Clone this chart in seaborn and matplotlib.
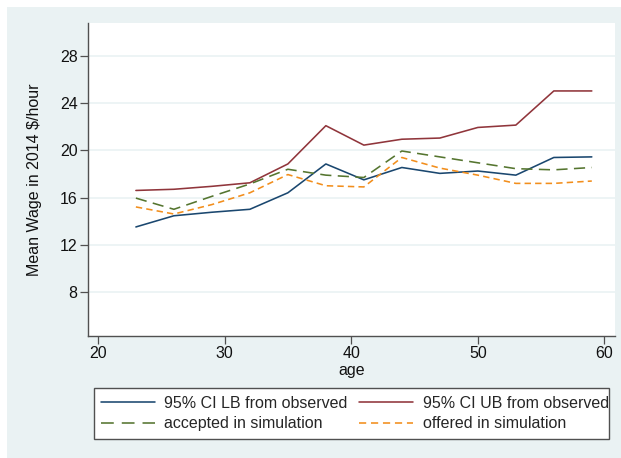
import matplotlib
matplotlib.use("Agg")
import matplotlib.pyplot as plt
from matplotlib.patches import Rectangle
from matplotlib.lines import Line2D
import pandas as pd
import seaborn as sns

# Age groups and mean hourly wages (2014 dollars)
age = [23, 26, 29, 32, 35, 38, 41, 44, 47, 50, 53, 56, 59]
ci_lb_observed = [13.5, 14.45, 14.75, 15.0, 16.4, 18.85, 17.5, 18.55, 18.05, 18.25, 17.9, 19.4, 19.45]
ci_ub_observed = [16.6, 16.7, 16.95, 17.25, 18.85, 22.1, 20.45, 20.95, 21.05, 21.95, 22.15, 25.05, 25.05]
accepted_sim = [15.95, 15.0, 16.1, 17.15, 18.4, 17.9, 17.7, 19.95, 19.45, 18.95, 18.45, 18.35, 18.55]
offered_sim = [15.2, 14.6, 15.4, 16.4, 17.95, 17.0, 16.9, 19.4, 18.5, 17.9, 17.2, 17.2, 17.4]

series_names = ["95% CI LB from observed", "95% CI UB from observed",
                "accepted in simulation", "offered in simulation"]
y_ticks = [8, 12, 16, 20, 24, 28]
x_ticks = [20, 30, 40, 50, 60]

df = pd.DataFrame({
    "age": age * 4,
    "wage": ci_lb_observed + ci_ub_observed + accepted_sim + offered_sim,
    "series": sum([[n] * len(age) for n in series_names], []),
})

sns.set_theme(style="white")
plt.rcParams["font.family"] = ["Liberation Sans", "DejaVu Sans"]

BG = "#EAF2F3"
AXIS = "#505050"
W, H = 621, 458
palette = {
    series_names[0]: "#1A476F",
    series_names[1]: "#90353B",
    series_names[2]: "#55752F",
    series_names[3]: "#F28E1C",
}
dash_map = {
    series_names[0]: "",
    series_names[1]: "",
    series_names[2]: (7.0, 4.0),
    series_names[3]: (4.0, 2.6),
}

fig = plt.figure(figsize=(W / 100, H / 100), dpi=100, facecolor="white")
fig.patches.append(Rectangle((7 / W, 0), 1, 1 - 7 / H, transform=fig.transFigure,
                             facecolor=BG, edgecolor="none", zorder=-10))
ax = fig.add_axes([88 / W, 1 - 336 / H, (615 - 88) / W, (336 - 23) / H])
ax.set_facecolor("white")

sns.lineplot(data=df, x="age", y="wage", hue="series", style="series",
             palette=palette, dashes=dash_map, hue_order=series_names,
             style_order=series_names, linewidth=1.15, ax=ax, legend=False)

ax.set_xlim(19.22, 60.83)
ax.set_ylim(4.24, 30.82)
ax.set_xticks(x_ticks)
ax.set_yticks(y_ticks)
ax.grid(axis="y", color=BG, linewidth=1.2)
ax.grid(axis="x", visible=False)
for side in ["top", "right"]:
    ax.spines[side].set_visible(False)
for side in ["left", "bottom"]:
    ax.spines[side].set_color(AXIS)
    ax.spines[side].set_linewidth(1.0)
ax.tick_params(axis="both", direction="out", length=5.5, width=0.9, color=AXIS,
               labelsize=11.5, labelcolor="#111111", pad=2, left=True, bottom=True)
ax.set_xlabel("age", fontsize=11.5, color="#111111", labelpad=1)
ax.set_ylabel(r"Mean Wage in 2014 \$/hour", fontsize=11.5, color="#111111", labelpad=13)

# Legend box below the plot, entries laid out row by row
fig.patches.append(Rectangle((94 / W, 1 - 439 / H), (609 - 94) / W, (439 - 388) / H,
                             transform=fig.transFigure, facecolor="white",
                             edgecolor=AXIS, linewidth=1.0, zorder=1))
leg_handles = {
    series_names[0]: Line2D([], [], color=palette[series_names[0]], linewidth=1.15),
    series_names[1]: Line2D([], [], color=palette[series_names[1]], linewidth=1.15),
    series_names[2]: Line2D([], [], color=palette[series_names[2]], linewidth=1.15, dashes=(8, 5)),
    series_names[3]: Line2D([], [], color=palette[series_names[3]], linewidth=1.15, dashes=(4.5, 3)),
}
order = [series_names[0], series_names[2], series_names[1], series_names[3]]
leg = fig.legend([leg_handles[n] for n in order], order, ncol=2, loc="center",
                 bbox_to_anchor=(100.5 / W, 1 - 439 / H, (609 - 100.5) / W, (439 - 388) / H),
                 mode="expand", frameon=False, fontsize=11.5,
                 handlelength=3.4, handletextpad=0.6, columnspacing=0.5,
                 borderpad=0.0, labelspacing=0.35, borderaxespad=0)
leg.set_zorder(2)

fig.savefig("out.png", dpi=100, facecolor=fig.get_facecolor())
